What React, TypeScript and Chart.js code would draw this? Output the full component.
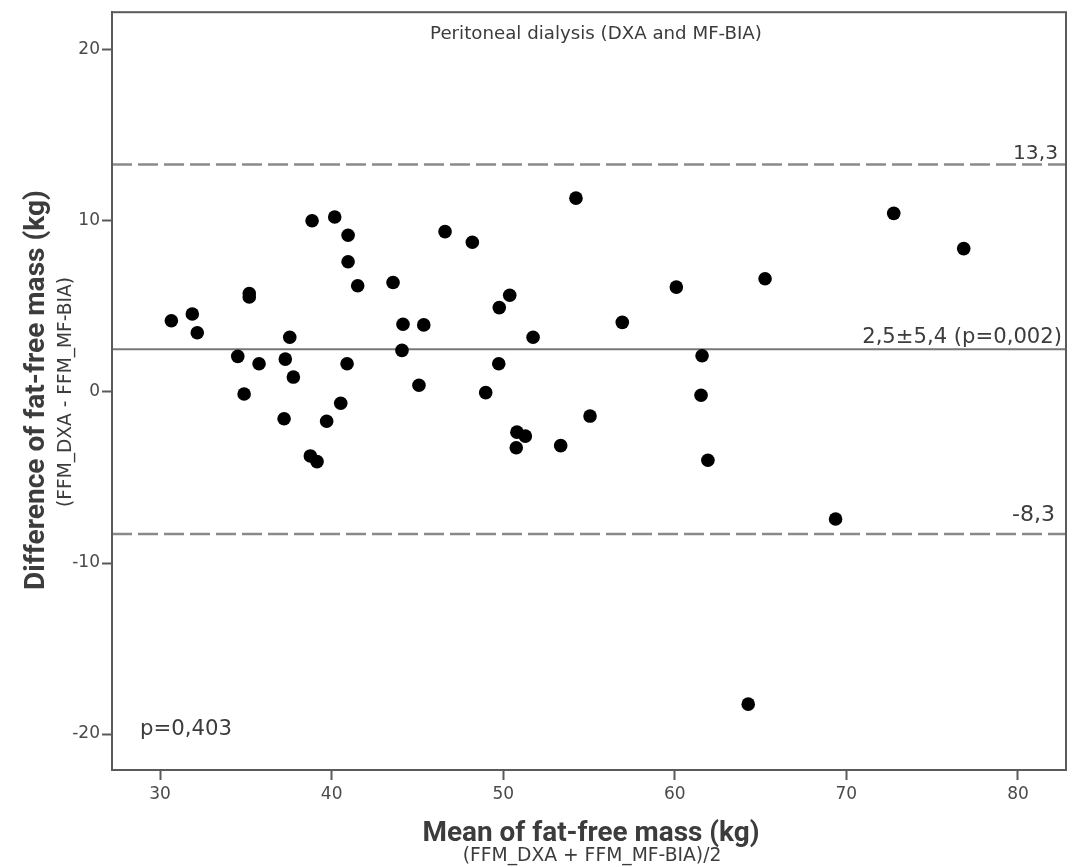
import React, { useEffect, useRef } from "react";
import { Chart, registerables } from "chart.js";

Chart.register(...registerables);

// Mean of fat-free mass (kg), (FFM_DXA + FFM_MF-BIA)/2
const meanFFM = [
  30.66, 31.88, 32.17, 35.2, 35.2, 34.53, 34.9, 35.77, 37.56, 37.3, 37.77, 37.23,
  38.86, 40.18, 40.96, 40.96, 41.52, 40.9, 40.53, 39.71, 38.76, 39.15,
  43.58, 44.16, 45.37, 44.1, 45.09, 46.61, 48.2, 54.24,
  50.38, 49.77, 51.74, 49.74, 48.98, 50.8, 51.29, 50.76, 53.35, 55.06,
  56.94, 60.09, 65.26, 61.59, 61.53, 61.93, 72.76, 76.84, 69.37, 64.28,
];
// Difference of fat-free mass (kg), FFM_DXA - FFM_MF-BIA
const diffFFM = [
  4.16, 4.56, 3.46, 5.75, 5.55, 2.08, -0.12, 1.65, 3.2, 1.92, 0.87, -1.57,
  10.01, 10.23, 9.16, 7.61, 6.21, 1.65, -0.66, -1.71, -3.74, -4.07,
  6.4, 3.96, 3.92, 2.43, 0.39, 9.37, 8.75, 11.33,
  5.65, 4.93, 3.2, 1.65, -0.04, -2.35, -2.58, -3.26, -3.14, -1.41,
  4.07, 6.13, 6.62, 2.12, -0.19, -3.99, 10.44, 8.38, -7.43, -18.25,
];

const meanDiff = 2.5;
const upperLoA = 13.3;
const lowerLoA = -8.3;

const xTicks = [30, 40, 50, 60, 70, 80];
const yTicks = [-20, -10, 0, 10, 20];
const X_MIN = 27.2;
const X_MAX = 82.8;
const Y_MIN = -22.1;
const Y_MAX = 22.2;

const TITLE = "Peritoneal dialysis (DXA and MF-BIA)";
const X_TITLE = "Mean of fat-free mass (kg)";
const X_SUB = "(FFM_DXA + FFM_MF-BIA)/2";
const Y_TITLE = "Difference of fat-free mass (kg)";
const Y_SUB = "(FFM_DXA - FFM_MF-BIA)";
const LABEL_UPPER = "13,3";
const LABEL_MEAN = "2,5±5,4 (p=0,002)";
const LABEL_LOWER = "-8,3";
const LABEL_P = "p=0,403";

const TEXT = "#3c3c3c";
const AXIS = "#5a5a5a";
const REG = "'DejaVu Sans', sans-serif";
const BOLD = "Roboto, sans-serif";

function fitText(
  ctx: CanvasRenderingContext2D,
  text: string,
  x: number,
  y: number,
  w: number,
  weight: string,
  family: string,
  align: CanvasTextAlign,
  baseline: CanvasTextBaseline,
  angle = 0
) {
  ctx.save();
  ctx.font = `${weight} 100px ${family}`;
  const m = ctx.measureText(text).width;
  const size = (100 * w) / m;
  ctx.font = `${weight} ${size}px ${family}`;
  ctx.fillStyle = TEXT;
  ctx.textAlign = align;
  ctx.textBaseline = baseline;
  ctx.translate(x, y);
  ctx.rotate(angle);
  ctx.fillText(text, 0, 0);
  ctx.restore();
}

const decorPlugin = {
  id: "decor",
  afterDraw(chart: any) {
    const { ctx, chartArea: a, scales } = chart;
    const ys = scales.y;
    // frame
    ctx.save();
    ctx.strokeStyle = AXIS;
    ctx.lineWidth = 2;
    ctx.strokeRect(a.left, a.top, a.right - a.left, a.bottom - a.top);
    ctx.restore();

    fitText(ctx, TITLE, (a.left + a.right) / 2 + 7, a.top + 22, 332, "normal", REG, "center", "middle");
    fitText(ctx, LABEL_UPPER, a.right - 8, ys.getPixelForValue(upperLoA) - 5, 45, "normal", REG, "right", "alphabetic");
    fitText(ctx, LABEL_MEAN, a.right - 4, ys.getPixelForValue(meanDiff) - 6, 200, "normal", REG, "right", "alphabetic");
    fitText(ctx, LABEL_LOWER, a.right - 11, ys.getPixelForValue(lowerLoA) - 13, 43, "normal", REG, "right", "alphabetic");
    fitText(ctx, LABEL_P, a.left + 28, a.bottom - 35, 92, "normal", REG, "left", "alphabetic");

    fitText(ctx, X_TITLE, 591, 834, 337, "bold", BOLD, "center", "middle");
    fitText(ctx, X_SUB, 592, 856, 259, "normal", REG, "center", "middle");
    fitText(ctx, Y_TITLE, 37, 390, 400, "bold", BOLD, "center", "middle", -Math.PI / 2);
    fitText(ctx, Y_SUB, 66, 392, 230, "normal", REG, "center", "middle", -Math.PI / 2);
  },
};

export default function App() {
  const ref = useRef<HTMLCanvasElement | null>(null);

  useEffect(() => {
    if (!ref.current) return;
    const points = meanFFM.map((x, i) => ({ x, y: diffFFM[i] }));
    const hline = (v: number) => [
      { x: X_MIN, y: v },
      { x: X_MAX, y: v },
    ];
    const tickFont = { family: REG, size: 17 };
    const chart = new Chart(ref.current, {
      type: "scatter",
      data: {
        datasets: [
          {
            data: points,
            pointRadius: 6.8,
            pointHoverRadius: 6.8,
            backgroundColor: "#000",
            borderWidth: 0,
            order: 0,
          },
          {
            data: hline(meanDiff),
            showLine: true,
            borderColor: "#777",
            borderWidth: 2,
            pointRadius: 0,
            order: 1,
          },
          {
            data: hline(upperLoA),
            showLine: true,
            borderColor: "#8a8a8a",
            borderWidth: 2.5,
            borderDash: [20, 6],
            pointRadius: 0,
            order: 1,
          },
          {
            data: hline(lowerLoA),
            showLine: true,
            borderColor: "#8a8a8a",
            borderWidth: 2.5,
            borderDash: [20, 6],
            pointRadius: 0,
            order: 1,
          },
        ] as any,
      },
      options: {
        animation: false,
        responsive: false,
        maintainAspectRatio: false,
        layout: { padding: { left: 0, top: 10, right: 13, bottom: 0 } },
        plugins: { legend: { display: false }, tooltip: { enabled: false } },
        scales: {
          x: {
            type: "linear",
            min: X_MIN,
            max: X_MAX,
            afterBuildTicks: (s: any) => {
              s.ticks = xTicks.map((v) => ({ value: v }));
            },
            afterFit: (s: any) => {
              s.height = 97;
            },
            grid: {
              drawOnChartArea: false,
              drawTicks: true,
              tickLength: 10,
              tickColor: AXIS,
              tickWidth: 2,
            },
            border: { color: AXIS, width: 2 },
            ticks: {
              font: tickFont,
              color: "#4a4a4a",
              padding: 4,
              maxRotation: 0,
              callback: (v: any) => String(v),
            },
          },
          y: {
            type: "linear",
            min: Y_MIN,
            max: Y_MAX,
            afterBuildTicks: (s: any) => {
              s.ticks = yTicks.map((v) => ({ value: v }));
            },
            afterFit: (s: any) => {
              s.width = 112;
            },
            grid: {
              drawOnChartArea: false,
              drawTicks: true,
              tickLength: 10,
              tickColor: AXIS,
              tickWidth: 2,
            },
            border: { color: AXIS, width: 2 },
            ticks: {
              font: tickFont,
              color: "#4a4a4a",
              padding: 2,
              callback: (v: any) => String(v),
            },
          },
        },
      },
      plugins: [decorPlugin],
    });
    return () => chart.destroy();
  }, []);

  return (
    <div style={{ position: "fixed", left: 0, top: 0, width: 1079, height: 867, background: "#fff" }}>
      <canvas ref={ref} width={1079} height={867} style={{ width: 1079, height: 867 }} />
    </div>
  );
}
